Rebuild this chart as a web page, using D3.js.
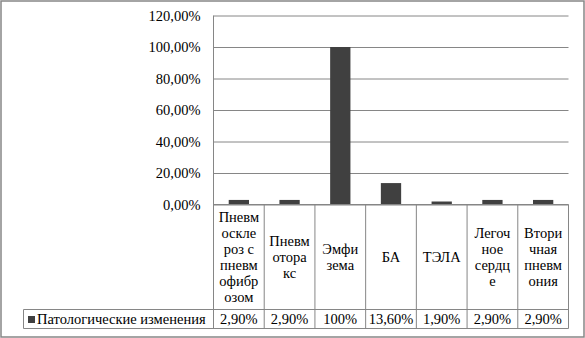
<html>
<head>
<meta charset="utf-8">
<script src="https://cdn.jsdelivr.net/npm/d3@7"></script>
<style>
  body { margin: 0; background: #fff; }
</style>
</head>
<body>
<script>
// данные
var categories = ["Пневмосклероз с пневмофиброзом", "Пневмоторакс", "Эмфизема", "БА", "ТЭЛА", "Легочное сердце", "Вторичная пневмония"];
var catLines = [
  ["Пневм", "оскле", "роз с", "пневм", "офибр", "озом"],
  ["Пневм", "отора", "кс"],
  ["Эмфи", "зема"],
  ["БА"],
  ["ТЭЛА"],
  ["Легоч", "ное", "сердц", "е"],
  ["Втори", "чная", "пневм", "ония"]
];
var values = [0.029, 0.029, 1.00, 0.136, 0.019, 0.029, 0.029];
var valueLabels = ["2,90%", "2,90%", "100%", "13,60%", "1,90%", "2,90%", "2,90%"];
var seriesName = "Патологические изменения";
var yTicks = [0, 0.2, 0.4, 0.6, 0.8, 1.0, 1.2];

var W = 585, H = 338;
var gridColor = "#868686", barColor = "#404040";

// шрифт как Times New Roman
function label(sel) {
  return sel.style("font-family", "Times New Roman")
            .style("font-size", "14.5px")
            .attr("fill", "#000");
}

var svg = d3.select("body").append("svg")
    .attr("width", W)
    .attr("height", H);

// рамка
svg.append("rect")
   .attr("x", 1).attr("y", 1)
   .attr("width", W - 2).attr("height", H - 2)
   .attr("fill", "none").attr("stroke", gridColor).attr("stroke-width", 1.5);

var pLeft = 213.5, pRight = 568.5, pTop = 15.5, pBase = 204.5;
var rowTop = 309.5, rowBot = 328.5, tableLeft = 23.5;

var y = d3.scaleLinear().domain([0, 1.2]).range([pBase, pTop]);
var x = d3.scaleBand().domain(categories).range([pLeft, pRight]).padding(0);

// сетка
var grid = svg.append("g")
    .attr("transform", "translate(" + pLeft + ",0)")
    .call(d3.axisLeft(y).tickValues(yTicks).tickSize(-(pRight - pLeft)).tickFormat(""));
grid.select(".domain").remove();
grid.selectAll("line").attr("stroke", gridColor);

// подписи оси (без d3-атрибутов sans-serif)
var tickFmt = function(d) { return d3.format(".2f")(d * 100).replace(".", ",") + "%"; };
svg.append("g").selectAll("text")
   .data(yTicks)
   .join("text")
   .attr("x", pLeft - 13)
   .attr("y", function(d) { return y(d) + 5; })
   .attr("text-anchor", "end")
   .call(label)
   .text(tickFmt);

// столбцы
var bw = x.bandwidth() * 0.4;
svg.selectAll(".bar")
   .data(values)
   .join("rect")
   .attr("class", "bar")
   .attr("x", function(d, i) { return x(categories[i]) + (x.bandwidth() - bw) / 2; })
   .attr("y", function(d) { return y(d); })
   .attr("width", bw)
   .attr("height", function(d) { return pBase - y(d); })
   .attr("fill", barColor);

// таблица данных
var tbl = svg.append("g").attr("stroke", gridColor).attr("stroke-width", 1);
tbl.append("line").attr("x1", pLeft).attr("x2", pLeft).attr("y1", pTop).attr("y2", rowBot);
tbl.append("line").attr("x1", pLeft).attr("x2", pRight).attr("y1", pBase).attr("y2", pBase);
tbl.append("line").attr("x1", tableLeft).attr("x2", pRight).attr("y1", rowTop).attr("y2", rowTop);
tbl.append("line").attr("x1", tableLeft).attr("x2", pRight).attr("y1", rowBot).attr("y2", rowBot);
tbl.append("line").attr("x1", tableLeft).attr("x2", tableLeft).attr("y1", rowTop).attr("y2", rowBot);
categories.forEach(function(c) {
  var xr = x(c) + x.bandwidth();
  tbl.append("line").attr("x1", xr).attr("x2", xr).attr("y1", pBase).attr("y2", rowBot);
});

// подписи категорий и значения
var lh = 16;
categories.forEach(function(c, i) {
  var ls = catLines[i];
  var cx = x(c) + x.bandwidth() / 2;
  var cy = (pBase + rowTop) / 2;
  var y0 = cy - (ls.length - 1) * lh / 2 + 5;
  ls.forEach(function(s, k) {
    svg.append("text").attr("text-anchor", "middle")
       .attr("x", cx).attr("y", y0 + k * lh)
       .call(label).text(s);
  });
  svg.append("text")
     .attr("x", cx).attr("y", (rowTop + rowBot) / 2 + 5)
     .attr("text-anchor", "middle")
     .call(label)
     .text(valueLabels[i]);
});

// легенда
svg.append("rect").attr("x", 28).attr("y", 316).attr("width", 7).attr("height", 7).attr("fill", barColor);
svg.append("text").attr("x", 37).attr("y", (rowTop + rowBot) / 2 + 5)
   .call(label)
   .text(seriesName);
</script>
</body>
</html>
